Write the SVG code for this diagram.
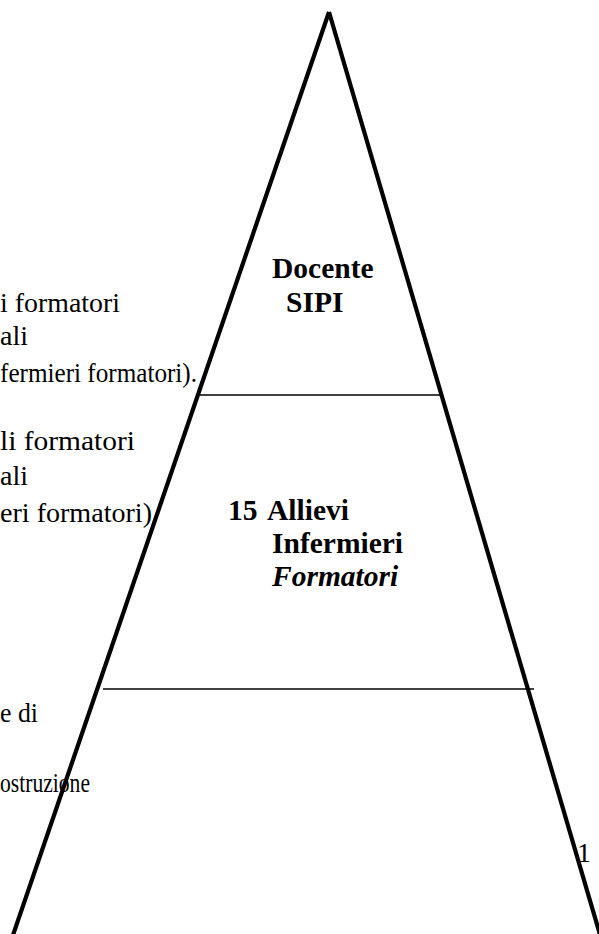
<svg xmlns="http://www.w3.org/2000/svg" width="599" height="934" viewBox="0 0 599 934">
<style>
.side{stroke:#000;stroke-width:4.2;fill:none}
.hl{stroke:#000;stroke-width:1.6;fill:none}
.t{font-family:"Liberation Serif","Times New Roman",serif;font-size:28px;fill:#000}
.b{font-weight:bold;font-size:29.5px}
.bi{font-weight:bold;font-style:italic;font-size:29.5px}
.e{text-anchor:end}
</style>
<g id="connectors">
<line class="side" x1="329" y1="12" x2="12" y2="938"/>
<line class="side" x1="329" y1="12" x2="601" y2="938"/>
<line class="hl" x1="200" y1="395" x2="441" y2="395"/>
<line class="hl" x1="103" y1="689" x2="534" y2="689"/>
</g>
<g id="left-text">
<text class="t" x="0" y="312" textLength="120" lengthAdjust="spacingAndGlyphs">i formatori</text>
<text class="t e" x="28" y="345">ali</text>
<text class="t" x="0" y="382" textLength="197" lengthAdjust="spacingAndGlyphs">fermieri formatori).</text>
<text class="t" x="0" y="450" textLength="135" lengthAdjust="spacingAndGlyphs">li formatori</text>
<text class="t e" x="28" y="485">ali</text>
<text class="t" x="0" y="522" textLength="152" lengthAdjust="spacingAndGlyphs">eri formatori)</text>
<text class="t" x="0" y="722" textLength="38" lengthAdjust="spacingAndGlyphs">e di</text>
<text class="t" x="0" y="792" textLength="90" lengthAdjust="spacingAndGlyphs">ostruzione</text>
</g>
<g id="node-top">
<text class="t b" x="272" y="278">Docente</text>
<text class="t b" x="286" y="312">SIPI</text>
</g>
<g id="node-middle">
<text class="t b" x="228" y="520">15<tspan x="267">Allievi</tspan></text>
<text class="t b" x="272" y="553">Infermieri</text>
<text class="t bi" x="272" y="586">Formatori</text>
</g>
<g id="page-number">
<text class="t" x="577" y="862">1</text>
</g>
</svg>
